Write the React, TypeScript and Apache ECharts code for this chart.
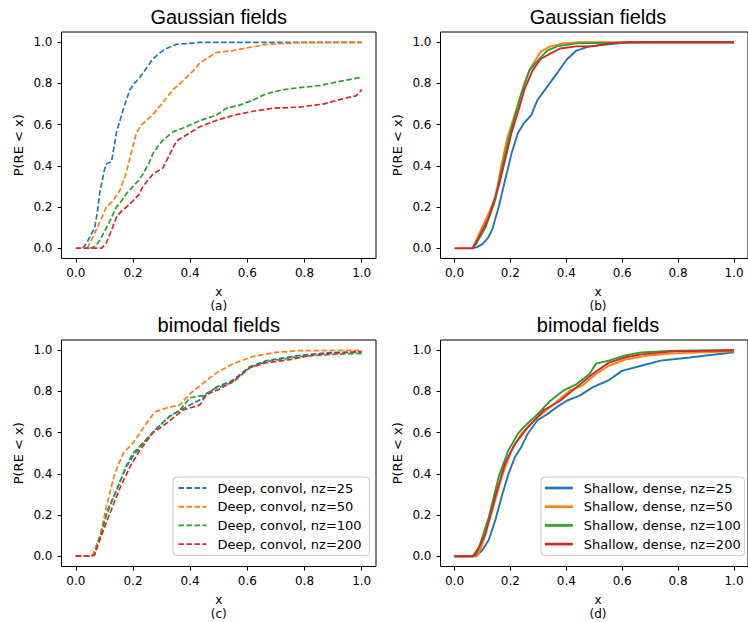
import React, { useEffect, useRef } from "react";
import * as echarts from "echarts";

type Pt = [number, number];

const tickValues = [0, 0.2, 0.4, 0.6, 0.8, 1.0];
const colors = ["#1f77b4", "#ff7f0e", "#2ca02c", "#d62728"];
const deepNames = ["Deep, convol, nz=25", "Deep, convol, nz=50", "Deep, convol, nz=100", "Deep, convol, nz=200"];
const shallowNames = ["Shallow, dense, nz=25", "Shallow, dense, nz=50", "Shallow, dense, nz=100", "Shallow, dense, nz=200"];
const panelTitles = ["Gaussian fields", "Gaussian fields", "bimodal fields", "bimodal fields"];
const panelTags = ["(a)", "(b)", "(c)", "(d)"];

// Panel (a): Gaussian fields, Deep convol
const aNz25: Pt[] = [[0.025,0],[0.04,0.03],[0.066,0.1],[0.075,0.17],[0.084,0.27],[0.1,0.38],[0.107,0.41],[0.125,0.42],[0.142,0.56],[0.165,0.67],[0.189,0.77],[0.205,0.8],[0.224,0.83],[0.25,0.88],[0.27,0.92],[0.295,0.95],[0.317,0.97],[0.352,0.99],[0.4,0.995],[0.434,1.0],[1.0,1.0]];
const aNz50: Pt[] = [[0.04,0],[0.06,0.055],[0.085,0.13],[0.107,0.2],[0.13,0.23],[0.154,0.28],[0.175,0.36],[0.19,0.44],[0.212,0.56],[0.23,0.6],[0.247,0.62],[0.27,0.65],[0.294,0.69],[0.32,0.735],[0.34,0.77],[0.365,0.8],[0.387,0.83],[0.41,0.86],[0.434,0.9],[0.457,0.92],[0.49,0.95],[0.55,0.96],[0.608,0.975],[0.667,0.99],[0.78,0.998],[1.0,1.0]];
const aNz100: Pt[] = [[0.05,0],[0.07,0.01],[0.084,0.04],[0.1,0.08],[0.12,0.135],[0.142,0.2],[0.16,0.23],[0.177,0.265],[0.2,0.3],[0.22,0.33],[0.235,0.36],[0.255,0.41],[0.27,0.46],[0.29,0.5],[0.305,0.525],[0.34,0.565],[0.387,0.59],[0.434,0.62],[0.49,0.645],[0.527,0.68],[0.573,0.695],[0.62,0.72],[0.667,0.75],[0.725,0.77],[0.783,0.78],[0.853,0.79],[0.923,0.81],[1.0,0.83]];
const aNz200: Pt[] = [[0.0,0],[0.09,0],[0.105,0.02],[0.12,0.07],[0.142,0.15],[0.16,0.18],[0.177,0.2],[0.2,0.23],[0.22,0.26],[0.235,0.3],[0.27,0.36],[0.305,0.39],[0.33,0.46],[0.352,0.52],[0.387,0.55],[0.434,0.59],[0.49,0.62],[0.55,0.645],[0.62,0.665],[0.69,0.68],[0.78,0.685],[0.865,0.7],[0.946,0.73],[0.98,0.74],[1.0,0.77]];

// Panel (b): Gaussian fields, Shallow dense
const bNz25: Pt[] = [[0.065,0],[0.08,0.005],[0.1,0.02],[0.12,0.05],[0.135,0.09],[0.158,0.2],[0.181,0.33],[0.204,0.46],[0.227,0.56],[0.25,0.61],[0.274,0.645],[0.297,0.72],[0.332,0.785],[0.367,0.85],[0.401,0.915],[0.436,0.96],[0.483,0.98],[0.552,0.99],[0.622,1.0],[1.0,1.0]];
const bNz50: Pt[] = [[0.065,0],[0.088,0.07],[0.123,0.17],[0.146,0.25],[0.169,0.41],[0.187,0.525],[0.204,0.6],[0.227,0.7],[0.25,0.8],[0.274,0.88],[0.309,0.955],[0.343,0.98],[0.39,0.995],[0.44,1.0],[1.0,1.0]];
const bNz100: Pt[] = [[0.065,0],[0.077,0.02],[0.111,0.1],[0.146,0.235],[0.169,0.38],[0.193,0.525],[0.216,0.64],[0.239,0.75],[0.268,0.865],[0.297,0.91],[0.332,0.96],[0.367,0.98],[0.436,0.995],[0.7,1.0],[1.0,1.0]];
const bNz200: Pt[] = [[0,0],[0.065,0],[0.088,0.055],[0.123,0.15],[0.158,0.3],[0.181,0.43],[0.204,0.56],[0.227,0.66],[0.25,0.77],[0.28,0.865],[0.309,0.92],[0.343,0.945],[0.378,0.97],[0.436,0.98],[0.494,0.98],[0.552,0.995],[0.62,1.0],[1.0,1.0]];

// Panel (c): bimodal fields, Deep convol
const cNz25: Pt[] = [[0,0],[0.05,0],[0.06,0.006],[0.084,0.095],[0.107,0.21],[0.142,0.32],[0.177,0.435],[0.2,0.485],[0.235,0.55],[0.282,0.62],[0.329,0.68],[0.387,0.725],[0.434,0.76],[0.49,0.82],[0.55,0.855],[0.608,0.92],[0.667,0.95],[0.783,0.975],[0.9,0.99],[1.0,0.99]];
const cNz50: Pt[] = [[0,0],[0.05,0],[0.06,0.006],[0.084,0.095],[0.107,0.24],[0.136,0.4],[0.166,0.5],[0.2,0.55],[0.247,0.645],[0.276,0.7],[0.317,0.72],[0.364,0.735],[0.4,0.79],[0.445,0.84],[0.492,0.89],[0.55,0.935],[0.62,0.97],[0.7,0.99],[0.78,0.998],[1.0,1.0]];
const cNz100: Pt[] = [[0,0],[0.05,0],[0.065,0.006],[0.084,0.09],[0.11,0.21],[0.142,0.32],[0.177,0.44],[0.2,0.5],[0.235,0.55],[0.282,0.62],[0.329,0.68],[0.364,0.71],[0.4,0.77],[0.445,0.78],[0.48,0.81],[0.55,0.845],[0.608,0.915],[0.667,0.945],[0.783,0.97],[0.9,0.98],[1.0,0.985]];
const cNz200: Pt[] = [[0,0],[0.05,0],[0.065,0.005],[0.084,0.08],[0.12,0.21],[0.154,0.33],[0.19,0.435],[0.224,0.515],[0.27,0.6],[0.317,0.645],[0.375,0.71],[0.434,0.735],[0.457,0.785],[0.5,0.81],[0.55,0.85],[0.608,0.915],[0.667,0.94],[0.75,0.955],[0.84,0.98],[1.0,0.995]];

// Panel (d): bimodal fields, Shallow dense
const dNz25: Pt[] = [[0,0],[0.077,0],[0.1,0.03],[0.123,0.08],[0.146,0.175],[0.169,0.29],[0.193,0.4],[0.216,0.48],[0.239,0.53],[0.262,0.595],[0.297,0.66],[0.332,0.69],[0.367,0.725],[0.401,0.755],[0.448,0.78],[0.494,0.82],[0.552,0.855],[0.599,0.9],[0.668,0.925],[0.738,0.95],[0.842,0.965],[0.9,0.975],[1.0,0.99]];
const dNz50: Pt[] = [[0,0],[0.07,0],[0.085,0.01],[0.1,0.06],[0.135,0.22],[0.169,0.385],[0.204,0.515],[0.239,0.595],[0.285,0.66],[0.343,0.725],[0.413,0.805],[0.459,0.83],[0.506,0.885],[0.552,0.925],[0.61,0.955],[0.691,0.975],[0.784,0.985],[1.0,0.995]];
const dNz100: Pt[] = [[0,0],[0.065,0],[0.088,0.045],[0.123,0.19],[0.158,0.385],[0.193,0.515],[0.227,0.595],[0.25,0.63],[0.297,0.69],[0.343,0.755],[0.39,0.805],[0.436,0.835],[0.483,0.885],[0.506,0.935],[0.552,0.95],[0.61,0.975],[0.668,0.99],[0.784,0.998],[1.0,1.0]];
const dNz200: Pt[] = [[0,0],[0.065,0],[0.077,0.01],[0.111,0.11],[0.146,0.29],[0.181,0.45],[0.216,0.545],[0.262,0.625],[0.32,0.71],[0.378,0.755],[0.436,0.82],[0.494,0.885],[0.552,0.94],[0.61,0.965],[0.668,0.98],[0.784,0.995],[1.0,1.0]];

const panelData: Pt[][][] = [
  [aNz25, aNz50, aNz100, aNz200],
  [bNz25, bNz50, bNz100, bNz200],
  [cNz25, cNz50, cNz100, cNz200],
  [dNz25, dNz50, dNz100, dNz200],
];
const panelDashed = [true, false, true, false];

const FONT = "DejaVu Sans";

export default function App() {
  const ref = useRef<HTMLDivElement>(null);
  useEffect(() => {
    if (!ref.current) return;
    const chart = echarts.init(ref.current, undefined, { renderer: "svg" });
    const grids = [
      { left: 61.5, top: 32, width: 314.5, height: 226.5 },
      { left: 440.5, top: 32, width: 315, height: 226.5 },
      { left: 61.5, top: 340, width: 314.5, height: 226.5 },
      { left: 440.5, top: 340, width: 315, height: 226.5 },
    ];
    const axisCommon = (margin: number) => ({
      type: "value" as const,
      min: -0.05,
      max: 1.05,
      splitLine: { show: false },
      axisLine: { show: false, onZero: false },
      axisTick: { show: true, length: 4, lineStyle: { color: "#000", width: 1 }, customValues: tickValues },
      axisLabel: {
        customValues: tickValues,
        formatter: (v: number) => v.toFixed(1),
        color: "#000",
        fontFamily: FONT,
        fontSize: 12,
        margin,
      },
    });
    const series: any[] = [];
    panelData.forEach((pd, p) => {
      const names = p % 2 === 0 ? deepNames : shallowNames;
      pd.forEach((d, i) => {
        series.push({
          type: "line",
          name: names[i],
          xAxisIndex: p,
          yAxisIndex: p,
          data: d,
          showSymbol: false,
          symbol: "none",
          smooth: false,
          lineStyle: {
            color: colors[i],
            width: panelDashed[p] ? 1.7 : 1.9,
            type: panelDashed[p] ? [5.5, 2.5] : "solid",
          },
          itemStyle: { color: colors[i] },
          z: 2 + i,
        });
      });
    });
    const graphics: any[] = [];
    grids.forEach((g, p) => {
      const cx = g.left + g.width / 2;
      graphics.push({
        type: "text",
        x: cx,
        y: g.top - 15,
        style: { text: panelTitles[p], font: "20px 'Liberation Sans'", fill: "#000", textAlign: "center", textVerticalAlign: "middle" },
      });
      graphics.push({
        type: "text",
        x: cx,
        y: g.top + g.height + 33.5,
        style: { text: "x", font: `12px '${FONT}'`, fill: "#000", textAlign: "center", textVerticalAlign: "middle" },
      });
      graphics.push({
        type: "text",
        x: cx,
        y: g.top + g.height + 47.5,
        style: { text: panelTags[p], font: `12px '${FONT}'`, fill: "#000", textAlign: "center", textVerticalAlign: "middle" },
      });
      graphics.push({
        type: "text",
        x: g.left - 43.5,
        y: g.top + g.height / 2,
        rotation: Math.PI / 2,
        style: { text: "P(RE < x)", font: `13px '${FONT}'`, fill: "#000", textAlign: "center", textVerticalAlign: "middle" },
      });
    });
    const legendCommon = {
      orient: "vertical" as const,
      backgroundColor: "rgba(255,255,255,0.85)",
      borderColor: "#cccccc",
      borderWidth: 1,
      borderRadius: 4,
      itemWidth: 28,
      itemHeight: 14,
      itemGap: 5.7,
      selectedMode: false,
      itemStyle: { opacity: 0 },
      textStyle: { fontFamily: FONT, fontSize: 13, color: "#000", padding: [0, 0, 0, 6] },
    };
    chart.setOption({
      animation: false,
      backgroundColor: "#fff",
      grid: grids.map((g) => ({ ...g, show: true, borderColor: "#000", borderWidth: 1, backgroundColor: "transparent", containLabel: false })),
      xAxis: grids.map((_, i) => ({ ...axisCommon(8), gridIndex: i })),
      yAxis: grids.map((_, i) => ({ ...axisCommon(9), gridIndex: i })),
      series,
      legend: [
        { ...legendCommon, data: deepNames, left: 173, top: 477, padding: [4.5, 8, 5, 4.5], lineStyle: { width: 1.9 } },
        { ...legendCommon, data: shallowNames, left: 541, top: 477, padding: [4.5, 4, 5, 2.5], lineStyle: { width: 2.7 } },
      ],
      graphic: graphics,
    });
    return () => chart.dispose();
  }, []);
  return <div ref={ref} style={{ position: "absolute", left: 0, top: 0, width: 748, height: 622 }} />;
}
